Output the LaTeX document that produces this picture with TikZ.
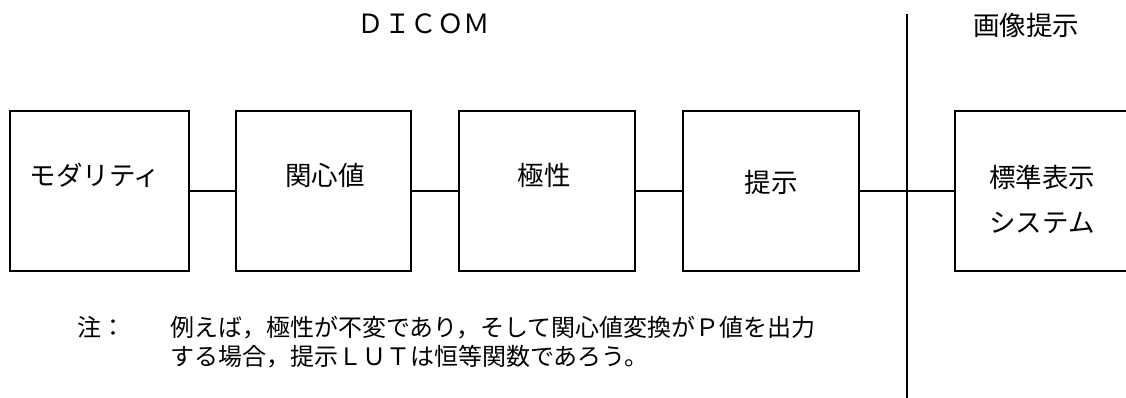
\documentclass[tikz,border=0pt]{standalone}
\usepackage{fontspec}
\newfontfamily\jp{Noto Sans CJK JP}
\usetikzlibrary{calc}
\tikzset{
  blk/.style={draw=black, line width=1.4pt, minimum height=160pt, inner sep=0pt, anchor=center},
  lbl/.style={font=\jp\fontsize{26.5}{30}\selectfont, inner sep=0pt, anchor=center},
  notetxt/.style={font=\jp\fontsize{24}{27}\selectfont, inner sep=0pt, anchor=base west},
  conn/.style={draw=black, line width=1.4pt}
}
\begin{document}
\begin{tikzpicture}[x=1pt,y=-1pt]
\clip (0,0) rectangle (1126,398);
\fill[white] (0,0) rectangle (1126,398);
% boxes
\node[blk, minimum width=179pt] (b1) at (99.5,191) {};
\node[blk, minimum width=175pt] (b2) at (323.5,191) {};
\node[blk, minimum width=176pt] (b3) at (547,191) {};
\node[blk, minimum width=176pt] (b4) at (771,191) {};
\node[blk, minimum width=240pt] (b5) at (1075,191) {};
% labels
\node[lbl] (t1) at (95,175) {モダリティ};
\node[lbl] (t2) at (325,175) {関心値};
\node[lbl] (t3) at (544,175) {極性};
\node[lbl] (t4) at (771,182.5) {提示};
\node[lbl] (t5) at (1042,177) {標準表示};
\node[lbl] (t6) at (1042,223) {システム};
% headings
\node[lbl] (dicom) at (424,24) {ＤＩＣＯＭ};
\node[lbl] (gazo) at (1026,25) {画像提示};
% divider
\coordinate (vtop) at (907,14);
\coordinate (vbot) at (907,398);
\draw[conn] (vtop) -- (vbot);
% connectors
\draw[conn] (b1.east) -- (b2.west);
\draw[conn] (b2.east) -- (b3.west);
\draw[conn] (b3.east) -- (b4.west);
\draw[conn] (b4.east) -- (b5.west);
% note
\node[notetxt] (chu) at (77,336) {注：};
\node[notetxt] (note1) at (170,336) {例えば，極性が不変であり，そして関心値変換がＰ値を出力};
\node[notetxt] (note2) at (170,365) {する場合，提示ＬＵＴは恒等関数であろう。};
\end{tikzpicture}
\end{document}
